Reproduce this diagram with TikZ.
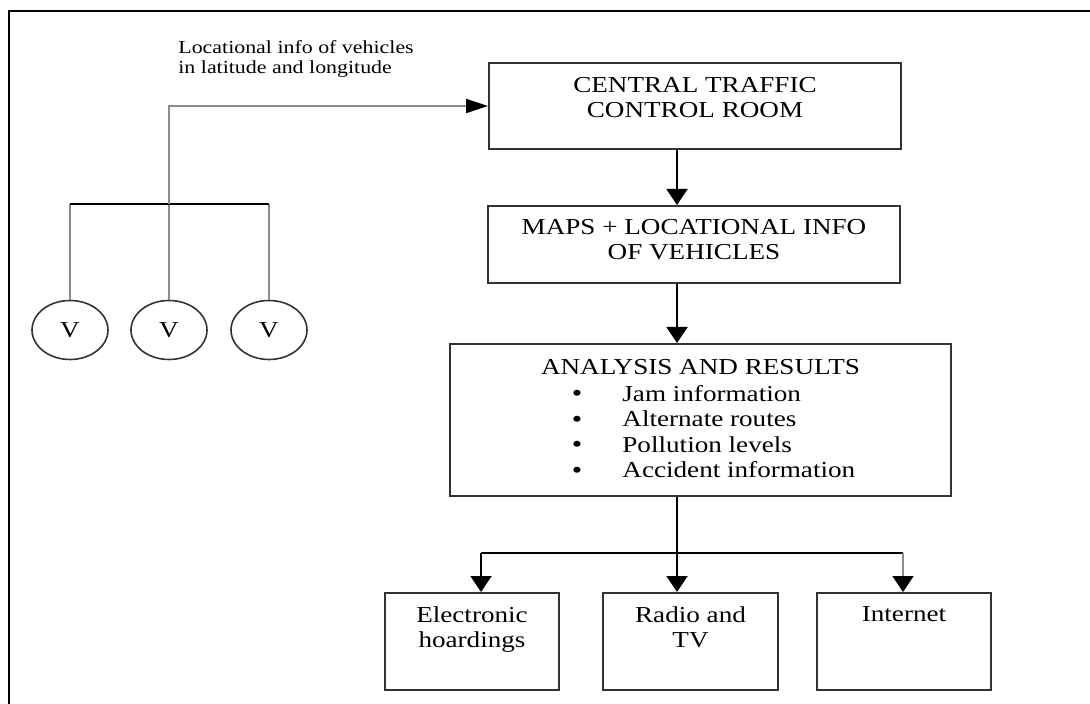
\documentclass[tikz,border=0pt]{standalone}
\usepackage{fontspec}
\setmainfont{Liberation Serif}[FakeStretch=1.19]
\usetikzlibrary{arrows.meta,shapes.geometric}
\definecolor{wire}{gray}{0.55}
\definecolor{edge}{gray}{0.2}
\tikzset{
	box/.style={draw=edge, line width=1pt, inner sep=0pt},
	txt/.style={inner sep=0pt, align=center, font=\fontsize{11.4}{12.3}\selectfont},
	dot/.style={inner sep=0pt, anchor=base, font=\fontsize{12.5}{12.5}\selectfont},
	veh/.style={ellipse, draw=edge, line width=0.8pt, minimum width=38pt, minimum height=29.5pt, inner sep=0pt, font=\fontsize{11.4}{12.3}\selectfont},
	vtip/.tip={Triangle[length=8pt,width=10.5pt,color=black]},
	htip/.tip={Triangle[length=11pt,width=7pt,color=black]},
	flow/.style={line width=1pt, -vtip},
}
\begin{document}
\begin{tikzpicture}[x=0.5pt,y=-0.5pt]
	\useasboundingbox (0,0) rectangle (1090,704);
	\draw[line width=1pt] (9,704) -- (9,10.7) -- (1090,10.7);

	\node[box, minimum width=206pt, minimum height=43pt] (ctcr) at (695,106) {};
	\node[box, minimum width=206pt, minimum height=38.5pt] (maps) at (694,244.5) {};
	\node[box, minimum width=250.5pt, minimum height=76pt] (analysis) at (700.5,420) {};
	\node[box, minimum width=87pt, minimum height=48.5pt] (elec) at (472,641.5) {};
	\node[box, minimum width=87.5pt, minimum height=48.5pt] (radio) at (690.5,641.5) {};
	\node[box, minimum width=87pt, minimum height=48.5pt] (inet) at (904,641.5) {};

	\node[txt, anchor=north] (ctcrtxt) at (695,77.5) {CENTRAL TRAFFIC\\CONTROL ROOM};
	\node[txt, anchor=north] (mapstxt) at (694,219.5) {MAPS + LOCATIONAL INFO\\OF VEHICLES};
	\node[txt, anchor=north] (restitle) at (700.5,359.5) {ANALYSIS AND RESULTS};
	\foreach \res [count=\i] in {Jam information, Alternate routes, Pollution levels, Accident information}{
		\node[dot] (dot\i) at (577,376+25.6*\i) {\textbullet};
		\node[txt, anchor=base west] (res\i) at (622,375.5+25.6*\i) {\res};
	};
	\node[txt, anchor=north] (electxt) at (472,606.5) {Electronic\\hoardings};
	\node[txt, anchor=north] (radiotxt) at (690.5,606.5) {Radio and\\TV};
	\node[txt, anchor=north] (inettxt) at (904,606.5) {Internet};

	\node[anchor=north west, inner sep=0pt, align=left, font=\fontsize{9.2}{10}\selectfont] (loc) at (178,40) {Locational info of vehicles\\in latitude and longitude};

	\foreach \x [count=\i] in {70,169,269}{
		\node[veh] (v\i) at (\x,330) {V};
	};
	\coordinate (bar) at (0,204);
	\coordinate (spine) at (677,0);
	\coordinate (forkL) at (481,553);
	\coordinate (forkR) at (903,553);

	\foreach \i in {1,2,3}{
		\draw[wire, line width=1pt] (v\i.north) -- (v\i |- bar);
	};
	\draw[line width=1pt] (v1 |- bar) -- (v3 |- bar);
	\draw[wire, line width=1pt, -htip] (v2 |- bar) |- (ctcr.west);

	\draw[flow] (ctcr.south -| spine) -- (maps.north -| spine);
	\draw[flow] (maps.south -| spine) -- (analysis.north -| spine);
	\draw[flow] (analysis.south -| spine) -- (radio.north -| spine);
	\draw[line width=1pt] (forkL) -- (forkR);
	\draw[flow] (forkL) -- (forkL |- elec.north);
	\draw[flow, wire] (forkR) -- (forkR |- inet.north);
\end{tikzpicture}
\end{document}
